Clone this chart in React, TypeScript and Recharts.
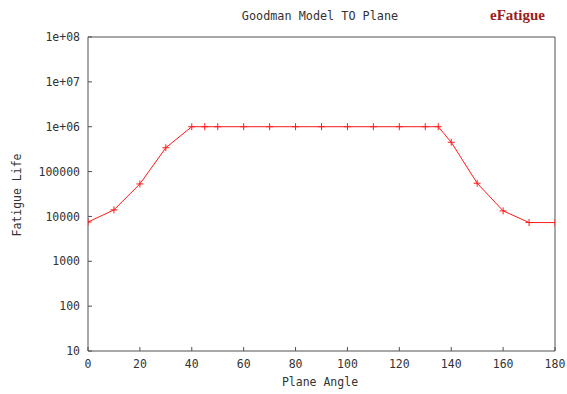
import React from 'react';
import { LineChart, Line, XAxis, YAxis } from 'recharts';

const angles = [0, 10, 20, 30, 40, 45, 50, 60, 70, 80, 90, 100, 110, 120, 130, 135, 140, 150, 160, 170, 180];
const lives = [7500, 14000, 53000, 340000, 1e6, 1e6, 1e6, 1e6, 1e6, 1e6, 1e6, 1e6, 1e6, 1e6, 1e6, 1e6, 450000, 55000, 13300, 7300, 7300];
const xTicks = [0, 20, 40, 60, 80, 100, 120, 140, 160, 180];
const yTicks = [10, 100, 1000, 10000, 100000, 1e6, 1e7, 1e8];
const yTickLabels = ['10', '100', '1000', '10000', '100000', '1e+06', '1e+07', '1e+08'];
const minorMultipliers = [2, 5, 8];
const yMinorTicks: number[] = [];
yTicks.slice(0, -1).forEach((d) => minorMultipliers.forEach((m) => yMinorTicks.push(d * m)));

const title = 'Goodman Model TO Plane';
const xLabel = 'Plane Angle';
const yLabel = 'Fatigue Life';
const logo = 'eFatigue';

const data = angles.map((a, i) => ({ angle: a, life: lives[i] }));

const FONT = '"DejaVu Sans Mono", monospace';
const AX = '#505050';
const TXT = '#333333';
const RED = '#ff1a1a';

const Plus = (props: any) => {
  const { cx, cy } = props;
  if (cx == null || cy == null) return null;
  const s = 3.5;
  return (
    <g>
      <line x1={cx - s} y1={cy} x2={cx + s} y2={cy} stroke={RED} strokeWidth={1} />
      <line x1={cx} y1={cy - s} x2={cx} y2={cy + s} stroke={RED} strokeWidth={1} />
    </g>
  );
};

const fmtY = (v: number) => {
  const i = yTicks.indexOf(v);
  return i >= 0 ? yTickLabels[i] : '';
};

const LOGD: [number, number] = [10, 1e8];

export default function App() {
  const tickStyle = { fontFamily: FONT, fontSize: 11.5, fill: TXT };
  return (
    <div style={{ position: 'absolute', left: 0, top: 0, width: 567, height: 394, background: '#fff' }}>
      <LineChart
        width={567}
        height={394}
        data={data}
        margin={{ top: 36, right: 11, bottom: 0, left: 0 }}
      >
        <XAxis xAxisId="b" dataKey="angle" type="number" domain={[0, 180]} ticks={xTicks}
          height={43} tickSize={-4} tickMargin={13} stroke={AX} tick={tickStyle} interval={0} allowDataOverflow />
        <XAxis xAxisId="t" orientation="top" dataKey="angle" type="number" domain={[0, 180]} ticks={xTicks}
          height={1} tickSize={-4} tick={false} stroke={AX} interval={0} allowDataOverflow />

        <YAxis yAxisId="l" scale="log" type="number" domain={LOGD} ticks={yTicks}
          width={88} tickSize={-4} tickMargin={12} tickFormatter={fmtY} stroke={AX} tick={tickStyle} interval={0} allowDataOverflow />
        <YAxis yAxisId="lmin" scale="log" type="number" domain={LOGD} ticks={yMinorTicks}
          width={1} mirror tickSize={2} tick={false} axisLine={false} stroke={AX} interval={0} allowDataOverflow />

        <YAxis yAxisId="r" orientation="right" scale="log" type="number" domain={LOGD} ticks={yTicks}
          width={1} tickSize={-4} tick={false} stroke={AX} interval={0} allowDataOverflow />
        <YAxis yAxisId="rm" orientation="right" scale="log" type="number" domain={LOGD} ticks={yMinorTicks}
          width={1} mirror tickSize={2} tick={false} axisLine={false} stroke={AX} interval={0} allowDataOverflow />

        <Line
          xAxisId="b"
          yAxisId="l"
          dataKey="life"
          stroke={RED}
          strokeWidth={1}
          dot={<Plus />}
          activeDot={false}
          isAnimationActive={false}
          type="linear"
        />
      </LineChart>
      <div
        style={{
          position: 'absolute', left: 0, width: 640, top: 9, textAlign: 'center',
          fontFamily: FONT, fontSize: 11.8, color: TXT, lineHeight: '14px',
        }}
      >
        {title}
      </div>
      <div
        style={{
          position: 'absolute', left: 490, top: 6, fontFamily: '"Liberation Serif", serif',
          fontWeight: 'bold', fontSize: 15, color: '#9b1c1c', lineHeight: '18px',
        }}
      >
        {logo}
      </div>
      <div
        style={{
          position: 'absolute', left: 0, width: 640, top: 375, textAlign: 'center',
          fontFamily: FONT, fontSize: 11.5, color: TXT, lineHeight: '14px',
        }}
      >
        {xLabel}
      </div>
      <div style={{ position: 'absolute', left: 17, top: 195, width: 0, height: 0 }}>
        <div
          style={{
            position: 'absolute', left: -60, top: -7, width: 120, textAlign: 'center',
            transform: 'rotate(-90deg)', fontFamily: FONT, fontSize: 11.5, color: TXT,
            lineHeight: '14px', whiteSpace: 'nowrap',
          }}
        >
          {yLabel}
        </div>
      </div>
    </div>
  );
}
